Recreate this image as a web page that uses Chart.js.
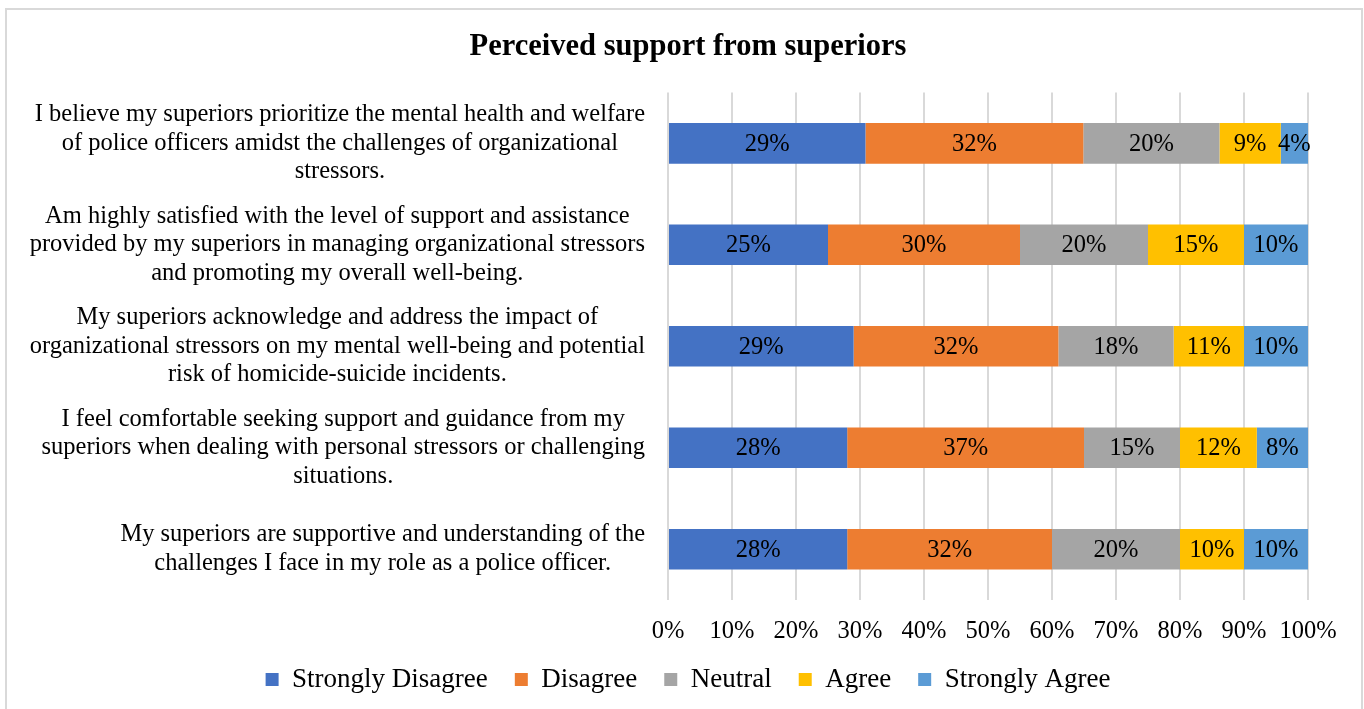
<!DOCTYPE html>
<html>
<head>
<meta charset="utf-8">
<script src="https://cdn.jsdelivr.net/npm/chart.js@4/dist/chart.umd.min.js"></script>
<style>
  html, body { margin: 0; padding: 0; background: #fff; }
  #wrap { width: 1364px; height: 709px; position: relative; }
</style>
</head>
<body>
<div id="wrap"><canvas id="chart" width="1364" height="709"></canvas></div>
<script>
// ===== DATOS =====
const statements = [
    ['I believe my superiors prioritize the mental health and welfare', 'of police officers amidst the challenges of organizational', 'stressors.'],
    ['Am highly satisfied with the level of support and assistance', 'provided by my superiors in managing organizational stressors', 'and promoting my overall well-being.'],
    ['My superiors acknowledge and address the impact of', 'organizational stressors on my mental well-being and potential', 'risk of homicide-suicide incidents.'],
    ['I feel comfortable seeking support and guidance from my', 'superiors when dealing with personal stressors or challenging', 'situations.'],
    ['My superiors are supportive and understanding of the', 'challenges I face in my role as a police officer.']
];
const levels = ['Strongly Disagree', 'Disagree', 'Neutral', 'Agree', 'Strongly Agree'];
const stronglyDisagree = [29, 25, 29, 28, 28];
const disagree         = [32, 30, 32, 37, 32];
const neutral          = [20, 20, 18, 15, 20];
const agree            = [9, 15, 11, 12, 10];
const stronglyAgree    = [4, 10, 10, 8, 10];
const xTicks = ['0%', '10%', '20%', '30%', '40%', '50%', '60%', '70%', '80%', '90%', '100%'];

const colors = ['#4472C4', '#ED7D31', '#A5A5A5', '#FFC000', '#5B9BD5'];
const FONT = '"Liberation Serif", "Times New Roman", serif';

// barra 100% apilada: se normaliza cada fila por su total
const series = [stronglyDisagree, disagree, neutral, agree, stronglyAgree];
const totals = statements.map((_, i) => series.reduce((s, arr) => s + arr[i], 0));
const datasets = series.map((arr, k) => ({
    label: levels[k],
    data: arr.map((v, i) => v / totals[i] * 100),
    raw: arr,
    backgroundColor: colors[k],
    borderWidth: 0,
    barPercentage: 0.4,
    categoryPercentage: 1
}));

// fondo + marco
const framePlugin = {
    id: 'frame',
    beforeDraw(chart) {
        const ctx = chart.ctx;
        ctx.save();
        ctx.fillStyle = '#fff';
        ctx.fillRect(0, 0, chart.width, chart.height);
        ctx.strokeStyle = '#d9d9d9';
        ctx.lineWidth = 2;
        ctx.strokeRect(6, 9, 1356, 706);
        ctx.restore();
    }
};

// etiquetas de las preguntas (bloque alineado a la derecha, lineas centradas)
const statementLabels = {
    id: 'statementLabels',
    afterDraw(chart) {
        const ctx = chart.ctx;
        const y = chart.scales.y;
        ctx.save();
        ctx.font = '24.5px ' + FONT;
        ctx.fillStyle = '#000';
        ctx.textAlign = 'center';
        ctx.textBaseline = 'middle';
        const right = chart.chartArea.left - 23;
        const lh = 28.6;
        statements.forEach((lines, i) => {
            const w = Math.max(...lines.map(l => ctx.measureText(l).width));
            const cx = right - w / 2;
            const cy = y.getPixelForValue(i);
            lines.forEach((l, j) => {
                ctx.fillText(l, cx, cy + (j - (lines.length - 1) / 2) * lh);
            });
        });
        ctx.restore();
    }
};

// etiquetas de porcentaje dentro de las barras
const valueLabels = {
    id: 'valueLabels',
    afterDatasetsDraw(chart) {
        const ctx = chart.ctx;
        ctx.save();
        ctx.font = '24.5px ' + FONT;
        ctx.fillStyle = '#000';
        ctx.textAlign = 'center';
        ctx.textBaseline = 'middle';
        chart.data.datasets.forEach((ds, k) => {
            chart.getDatasetMeta(k).data.forEach((bar, i) => {
                ctx.fillText(ds.raw[i] + '%', (bar.x + bar.base) / 2, bar.y + 1);
            });
        });
        ctx.restore();
    }
};

new Chart(document.getElementById('chart').getContext('2d'), {
    type: 'bar',
    data: { labels: statements, datasets: datasets },
    options: {
        indexAxis: 'y',
        responsive: false,
        animation: false,
        layout: { padding: { left: 68, right: 56, top: 0, bottom: 6 } },
        scales: {
            x: {
                stacked: true,
                min: 0,
                max: 100,
                clip: false,
                grid: { color: '#d9d9d9', lineWidth: 2, drawTicks: false },
                border: { display: false },
                ticks: {
                    stepSize: 10,
                    padding: 17,
                    color: '#000',
                    font: { family: FONT, size: 24.5 },
                    callback: (v, i) => xTicks[i]
                },
                afterFit: s => { s.height = 39; }
            },
            y: {
                stacked: true,
                grid: { display: false },
                border: { display: false },
                ticks: { display: false },
                afterFit: s => { s.width = 600; }
            }
        },
        plugins: {
            title: {
                display: true,
                text: 'Perceived support from superiors',
                color: '#000',
                font: { family: FONT, size: 30.5, weight: 'bold' },
                padding: { top: 29, bottom: 27 }
            },
            legend: {
                position: 'bottom',
                labels: {
                    boxWidth: 13,
                    boxHeight: 13,
                    padding: 27,
                    color: '#000',
                    font: { family: FONT, size: 27 }
                }
            },
            tooltip: { enabled: false }
        }
    },
    plugins: [framePlugin, statementLabels, valueLabels]
});
</script>
</body>
</html>
